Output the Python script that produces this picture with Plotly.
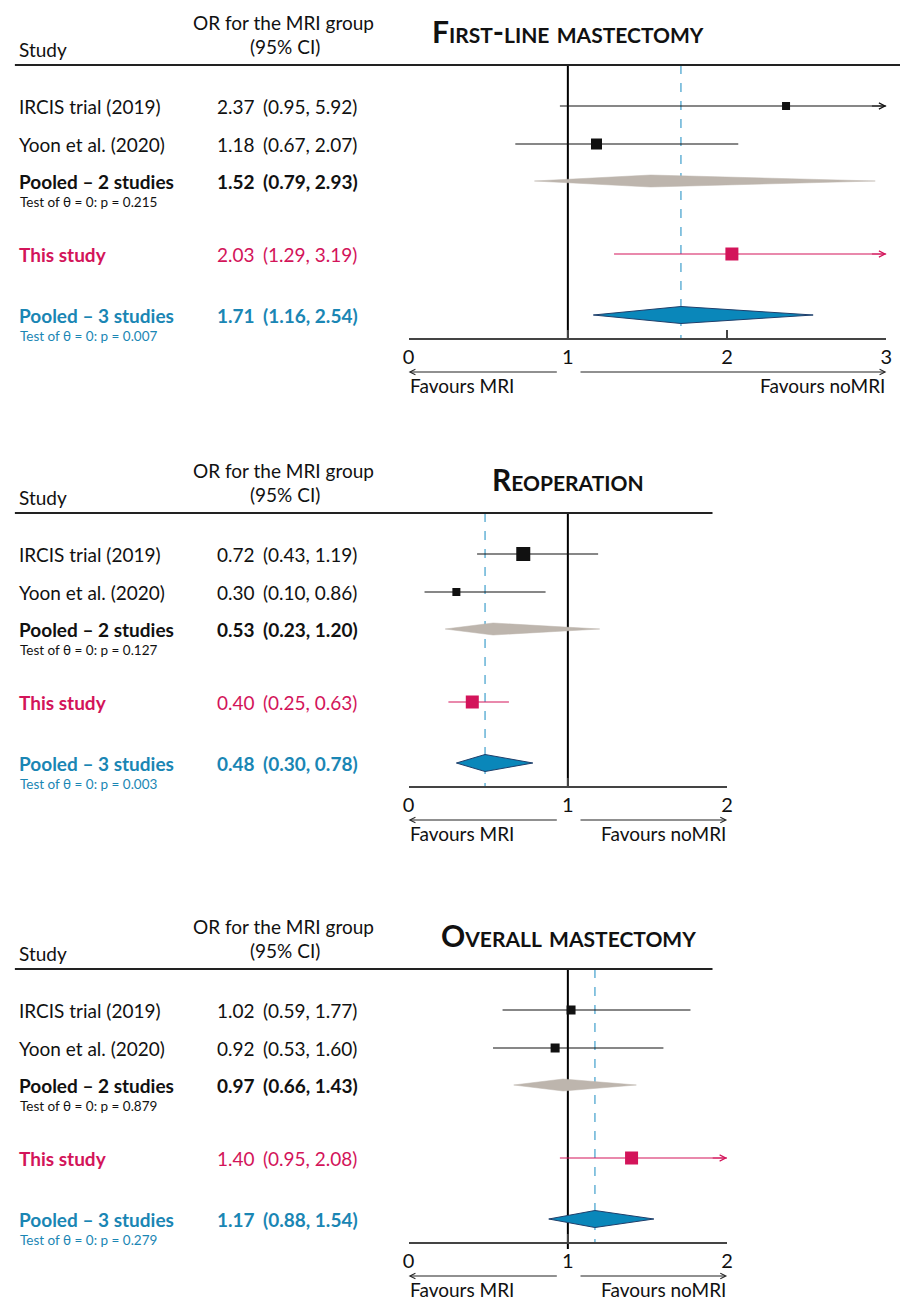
import plotly.graph_objects as go

# ---------------- data ----------------
studies = ["IRCIS trial (2019)", "Yoon et al. (2020)", "Pooled – 2 studies",
           "This study", "Pooled – 3 studies"]
panel_titles = ["First-line mastectomy", "Reoperation", "Overall mastectomy"]
est = [[2.37, 1.18, 1.52, 2.03, 1.71],
       [0.72, 0.30, 0.53, 0.40, 0.48],
       [1.02, 0.92, 0.97, 1.40, 1.17]]
lo = [[0.95, 0.67, 0.79, 1.29, 1.16],
      [0.43, 0.10, 0.23, 0.25, 0.30],
      [0.59, 0.53, 0.66, 0.95, 0.88]]
hi = [[5.92, 2.07, 2.93, 3.19, 2.54],
      [1.19, 0.86, 1.20, 0.63, 0.78],
      [1.77, 1.60, 1.43, 2.08, 1.54]]
p_pooled2 = ["0.215", "0.127", "0.879"]
p_pooled3 = ["0.007", "0.003", "0.279"]
axis_max = [3, 2, 2]
tick_vals = [[0, 1, 2, 3], [0, 1, 2], [0, 1, 2]]

# ---------------- styles / layout ----------------
W, H = 906, 1301
FONT = "Lato"
FS = 19
BLACK = "#111111"
PINK = "#D3145A"
BLUE = "#1A86B4"
DIAM_BLUE = "#0A87BA"
DIAM_EDGE = "#1F3F6B"
GRAY = "#BDB5AD"
DASH = "#4DA6D0"
AXIS = "#444444"

marker_sizes = [[8, 11, 0, 13, 0], [14, 8, 0, 13, 0], [9, 9, 0, 13, 0]]
row_kind = ["study", "study", "pooled2", "this", "pooled3"]
panel_top = [65, 513, 969]
row_off = [41, 79, 116, 189, 250]
axis_off = 274
x0_px = 408
unit_px = 161.4
header_right = [906, 716, 716]

fig = go.Figure()
annotations = []
shapes = []


def px(x):
    return x / W


axis_names = ["x", "x2", "x3"]
layout_axes = {}

for p in range(3):
    xa = axis_names[p]
    top = panel_top[p]
    axis_y = top + axis_off
    xmax = axis_max[p]

    # header line
    shapes.append(dict(type="line", xref="paper", yref="y", x0=px(9), x1=px(header_right[p]),
                       y0=top, y1=top, line=dict(color="#222222", width=2)))
    # header texts
    annotations += [
        dict(text="Study", xref="paper", yref="y", x=px(11), y=top - 16, xanchor="left",
             yanchor="middle", showarrow=False, font=dict(family=FONT, size=FS, color=BLACK)),
        dict(text="OR for the MRI group", xref="paper", yref="y", x=px(281), y=top - 43,
             xanchor="center", yanchor="middle", showarrow=False,
             font=dict(family=FONT, size=FS, color=BLACK)),
        dict(text="(95% CI)", xref="paper", yref="y", x=px(283), y=top - 19,
             xanchor="center", yanchor="middle", showarrow=False,
             font=dict(family=FONT, size=FS, color=BLACK)),
        dict(text=panel_titles[p], xref="paper", yref="y", x=px(570), y=top - 34,
             xanchor="center", yanchor="middle", showarrow=False,
             font=dict(family=FONT, size=30, color=BLACK, weight="bold", variant="small-caps")),
    ]

    # vertical line at OR = 1
    fig.add_trace(go.Scatter(x=[1, 1], y=[top, axis_y + (6 if p == 2 else 0)], mode="lines",
                             line=dict(color="black", width=2), xaxis=xa, yaxis="y",
                             hoverinfo="skip", showlegend=False))
    # dashed line at pooled (3 studies) estimate
    fig.add_trace(go.Scatter(x=[est[p][4], est[p][4]], y=[top, axis_y], mode="lines",
                             line=dict(color=DASH, width=1.3, dash="dash"), xaxis=xa, yaxis="y",
                             hoverinfo="skip", showlegend=False))

    for r in range(5):
        y = top + row_off[r]
        kind = row_kind[r]
        e, l, h = est[p][r], lo[p][r], hi[p][r]
        col = {"study": BLACK, "pooled2": BLACK, "this": PINK, "pooled3": BLUE}[kind]
        bold = kind in ("pooled2", "this", "pooled3")
        num_bold = kind in ("pooled2", "pooled3")
        annotations.append(dict(text=studies[r], xref="paper", yref="y", x=px(11), y=y,
                                xanchor="left", yanchor="middle", showarrow=False,
                                font=dict(family=FONT, size=FS, color=col,
                                          weight="bold" if bold else "normal")))
        annotations.append(dict(text=f"{e:.2f}", xref="paper", yref="y", x=px(212), y=y,
                                xanchor="left", yanchor="middle", showarrow=False,
                                font=dict(family=FONT, size=FS, color=col,
                                          weight="bold" if num_bold else "normal")))
        annotations.append(dict(text=f"({l:.2f}, {h:.2f})", xref="paper", yref="y", x=px(258),
                                y=y, xanchor="left", yanchor="middle", showarrow=False,
                                font=dict(family=FONT, size=FS, color=col,
                                          weight="bold" if num_bold else "normal")))
        if kind in ("pooled2", "pooled3"):
            pv = p_pooled2[p] if kind == "pooled2" else p_pooled3[p]
            annotations.append(dict(text=f"Test of θ = 0: p = {pv}", xref="paper", yref="y",
                                    x=px(12), y=y + 21, xanchor="left", yanchor="middle",
                                    showarrow=False,
                                    font=dict(family=FONT, size=13.5, color=col)))

        if kind in ("study", "this"):
            hh = min(h, xmax)
            fig.add_trace(go.Scatter(x=[l, hh], y=[y, y], mode="lines",
                                     line=dict(color=col, width=1.1), xaxis=xa, yaxis="y",
                                     hoverinfo="skip", showlegend=False))
            if h > xmax:
                annotations.append(dict(x=xmax, y=y, ax=xmax - 0.1, ay=y, xref=xa, yref="y",
                                        axref=xa, ayref="y", text="", showarrow=True,
                                        arrowhead=5, arrowsize=1.1, arrowwidth=1.1,
                                        arrowcolor=col))
            fig.add_trace(go.Scatter(x=[e], y=[y], mode="markers",
                                     marker=dict(symbol="square", size=marker_sizes[p][r],
                                                 color=col, line=dict(width=0)),
                                     xaxis=xa, yaxis="y", hoverinfo="skip", showlegend=False))
        else:
            half = 6 if kind == "pooled2" else 8.5
            fill = GRAY if kind == "pooled2" else DIAM_BLUE
            edge = GRAY if kind == "pooled2" else DIAM_EDGE
            fig.add_trace(go.Scatter(x=[l, e, h, e, l], y=[y, y - half, y, y + half, y],
                                     mode="lines", fill="toself", fillcolor=fill,
                                     line=dict(color=edge, width=1 if kind == "pooled3" else 0.5),
                                     xaxis=xa, yaxis="y", hoverinfo="skip", showlegend=False))

    # favours arrows and labels
    ay_ = axis_y + 33
    annotations.append(dict(x=0, y=ay_, ax=0.94, ay=ay_, xref=xa, yref="y", axref=xa,
                            ayref="y", text="", showarrow=True, arrowhead=5, arrowsize=1,
                            arrowwidth=1.1, arrowcolor="#222222"))
    annotations.append(dict(x=xmax, y=ay_, ax=1.07, ay=ay_, xref=xa, yref="y", axref=xa,
                            ayref="y", text="", showarrow=True, arrowhead=5, arrowsize=1,
                            arrowwidth=1.1, arrowcolor="#222222"))
    fav_y = axis_y + 46
    annotations.append(dict(text="Favours MRI", x=0, y=fav_y, xref=xa, yref="y",
                            xanchor="left", yanchor="middle", showarrow=False, borderpad=0,
                            font=dict(family=FONT, size=FS, color=BLACK)))
    annotations.append(dict(text="Favours noMRI", x=xmax, y=fav_y, xref=xa, yref="y",
                            xanchor="right", yanchor="middle", showarrow=False, borderpad=0,
                            font=dict(family=FONT, size=FS, color=BLACK)))

    key = "xaxis" if p == 0 else f"xaxis{p + 1}"
    layout_axes[key] = dict(
        domain=[px(x0_px), px(x0_px + unit_px * xmax)], range=[0, xmax],
        anchor="free", position=1 - axis_y / H, side="bottom",
        showline=True, linecolor=AXIS, linewidth=1.5, showgrid=False, zeroline=False,
        ticks="inside", ticklen=8, tickwidth=1.5, tickcolor=AXIS,
        tickvals=tick_vals[p], ticktext=[str(t) for t in tick_vals[p]],
        tickfont=dict(family=FONT, size=20, color=BLACK), fixedrange=True)

fig.update_layout(
    width=W, height=H, margin=dict(l=0, r=0, t=0, b=0),
    paper_bgcolor="white", plot_bgcolor="rgba(0,0,0,0)",
    yaxis=dict(range=[H, 0], domain=[0, 1], visible=False, fixedrange=True),
    annotations=annotations, shapes=shapes, showlegend=False,
    **layout_axes)

fig.write_html("out.html", config={"displayModeBar": False},
               post_script="document.body.style.margin='0px';")
